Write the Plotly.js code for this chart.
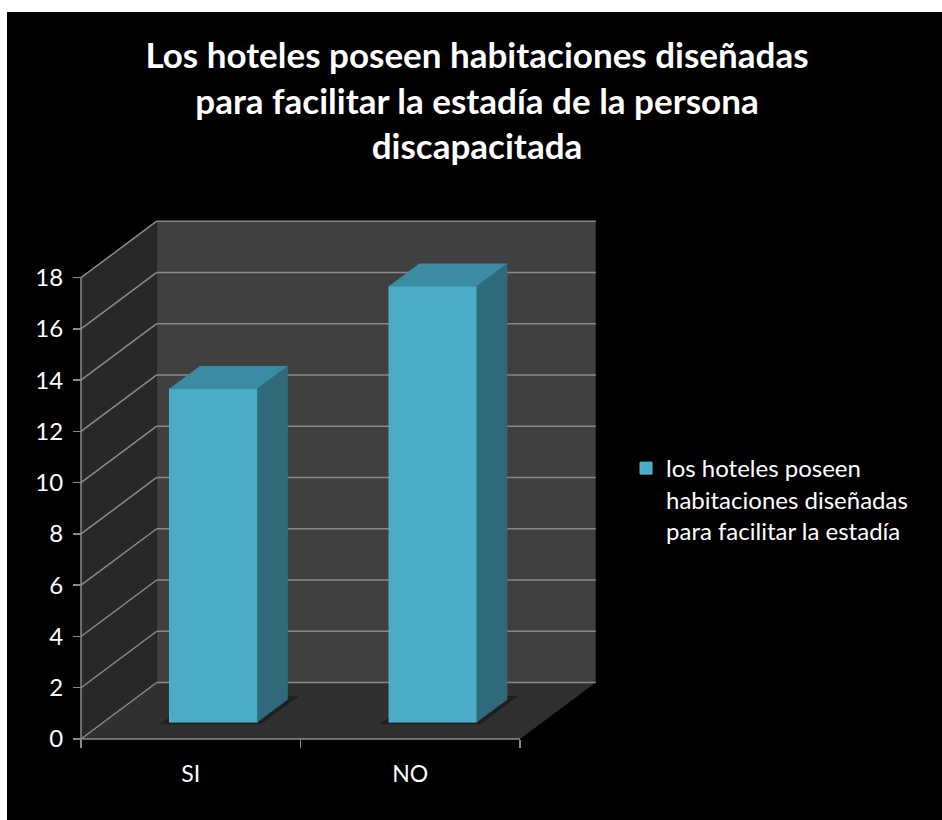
<!DOCTYPE html>
<html>
<head>
<meta charset="utf-8">
<script src="https://cdn.plot.ly/plotly-3.0.1.min.js"></script>
<style>html,body{margin:0;padding:0;background:#fff;}#chart{width:942px;height:820px;}</style>
</head>
<body>
<div id="chart"></div>
<script>
// ---- data ----
const categories = ['SI', 'NO'];
const values = [13, 17];
const yTicks = [0, 2, 4, 6, 8, 10, 12, 14, 16, 18];
const seriesName = 'los hoteles poseen<br>habitaciones diseñadas<br>para facilitar la estadía';
const chartTitle = 'Los hoteles poseen habitaciones diseñadas<br>para facilitar la estadía de la persona<br>discapacitada';

// ---- 3D projection (oblique) ----
const DX = 0.345, DY = 2.204;        // full depth offset in axis units
const BAR_D0 = 0.3, BAR_DD = 0.4, BAR_W = 0.4;
const wallTop = yTicks[yTicks.length - 1];
const x0 = -0.5, x1 = categories.length - 0.5;

// layout metrics
const W = 942, H = 820;
const M = {l: 48, r: 312, t: 200, b: 42, autoexpand: false};
const pw = W - M.l - M.r, ph = H - M.t - M.b;
const KX = 219.5, KY = 25.63;           // px per unit
const axisPxX = 81, axisPxY = 739;      // where front axes meet
const xr0 = x0 - (axisPxX - M.l) / KX, xr1 = xr0 + pw / KX;
const yr0 = -((H - M.b) - axisPxY) / KY, yr1 = yr0 + ph / KY;
const pxToPaperX = p => (p - M.l) / pw;
const pxToPaperY = p => ((H - M.b) - p) / ph;

const grid = '#8a8a8a';
const shapes = [];
// black background (leaves white strip top/left)
shapes.push({type: 'rect', xref: 'paper', yref: 'paper', layer: 'below',
  x0: pxToPaperX(7), x1: pxToPaperX(W + 5), y0: pxToPaperY(H + 5), y1: pxToPaperY(12),
  fillcolor: '#000000', line: {width: 0}});
// back wall
shapes.push({type: 'path', layer: 'below', xref: 'x', yref: 'y',
  path: `M${x0+DX},${DY} L${x1+DX},${DY} L${x1+DX},${wallTop+DY} L${x0+DX},${wallTop+DY} Z`,
  fillcolor: '#404040', line: {width: 0}});
// side wall
shapes.push({type: 'path', layer: 'below', xref: 'x', yref: 'y',
  path: `M${x0},0 L${x0},${wallTop} L${x0+DX},${wallTop+DY} L${x0+DX},${DY} Z`,
  fillcolor: '#282828', line: {width: 0}});
// floor
shapes.push({type: 'path', layer: 'below', xref: 'x', yref: 'y',
  path: `M${x0},0 L${x1},0 L${x1+DX},${DY} L${x0+DX},${DY} Z`,
  fillcolor: '#303030', line: {width: 0}});
// bar shadows on floor
values.forEach((v, i) => {
  const xl = i - BAR_W / 2, xr = xl + BAR_W;
  const da = BAR_D0 - 0.04, db = BAR_D0 + BAR_DD + 0.06;
  const ex = 0.03;
  shapes.push({type: 'path', layer: 'below', xref: 'x', yref: 'y',
    path: `M${xl-ex+da*DX},${da*DY} L${xr+ex+da*DX},${da*DY} L${xr+ex+db*DX},${db*DY} L${xl-ex+db*DX},${db*DY} Z`,
    fillcolor: 'rgba(0,0,0,0.35)', line: {width: 0}});
});
// gridlines: back wall + side wall diagonals
yTicks.forEach(v => {
  shapes.push({type: 'line', layer: 'below', xref: 'x', yref: 'y',
    x0: x0 + DX, x1: x1 + DX, y0: v + DY, y1: v + DY, line: {color: grid, width: 1.5}});
  shapes.push({type: 'line', layer: 'below', xref: 'x', yref: 'y',
    x0: x0, x1: x0 + DX, y0: v, y1: v + DY, line: {color: grid, width: 1.5}});
});
// front vertical axis line and floor front edge
shapes.push({type: 'line', layer: 'below', xref: 'x', yref: 'y',
  x0: x0, x1: x0, y0: 0, y1: wallTop, line: {color: grid, width: 1.5}});
shapes.push({type: 'line', layer: 'below', xref: 'x', yref: 'y',
  x0: x0, x1: x1, y0: 0, y1: 0, line: {color: grid, width: 1.5}});

// bar faces
const frontX = categories.map((c, i) => i + BAR_D0 * DX);
const base = BAR_D0 * DY;
const topX = [], topY = [], sideX = [], sideY = [];
values.forEach((v, i) => {
  const xl = frontX[i] - BAR_W / 2, xr = frontX[i] + BAR_W / 2;
  const yt = base + v;
  const dx = BAR_DD * DX, dy = BAR_DD * DY;
  topX.push(xl, xr, xr + dx, xl + dx, xl, null);
  topY.push(yt, yt, yt + dy, yt + dy, yt, null);
  sideX.push(xr, xr, xr + dx, xr + dx, xr, null);
  sideY.push(base, yt, yt + dy, base + dy, base, null);
});

const font = "Lato, 'Open Sans', sans-serif";
const traces = [
  {type: 'bar', x: frontX, y: values, base: base, width: BAR_W, name: seriesName,
   marker: {color: '#4aacc6', line: {color: '#55b8d2', width: 1}}, hoverinfo: 'skip'},
  {type: 'scatter', mode: 'lines', x: topX, y: topY, fill: 'toself', fillcolor: '#3b8ca3',
   line: {color: '#3b8ca3', width: 0.5}, showlegend: false, hoverinfo: 'skip'},
  {type: 'scatter', mode: 'lines', x: sideX, y: sideY, fill: 'toself', fillcolor: '#2f6a7b',
   line: {color: '#2f6a7b', width: 0.5}, showlegend: false, hoverinfo: 'skip'},
  {type: 'scatter', mode: 'markers', x: [0, 1], y: [null, null], xaxis: 'x2',
   showlegend: false, hoverinfo: 'skip'}
];

const layout = {
  width: W, height: H,
  margin: M,
  paper_bgcolor: '#ffffff', plot_bgcolor: 'rgba(0,0,0,0)',
  showlegend: true,
  hovermode: false,
  title: {text: chartTitle, font: {family: font, size: 35, weight: 700, color: '#ffffff'},
          xref: 'container', yref: 'container', x: 477 / W, xanchor: 'center',
          y: 1 - 68 / H, yanchor: 'top'},
  xaxis: {range: [xr0, xr1], anchor: 'free', position: pxToPaperY(axisPxY),
          tickmode: 'array', tickvals: [x0, 0.5, x1], ticks: 'outside', ticklen: 8,
          tickcolor: grid, tickwidth: 1.5, showticklabels: false,
          showgrid: false, zeroline: false, showline: false, fixedrange: true},
  xaxis2: {range: [xr0, xr1], overlaying: 'x', anchor: 'free', position: pxToPaperY(axisPxY),
          tickmode: 'array', tickvals: categories.map((c, i) => i), ticktext: categories,
          ticks: 'outside', ticklen: 14, tickcolor: 'rgba(0,0,0,0)',
          tickfont: {family: font, size: 23, color: '#ffffff'},
          showgrid: false, zeroline: false, showline: false, fixedrange: true},
  yaxis: {range: [yr0, yr1], anchor: 'free', position: pxToPaperX(axisPxX),
          tickmode: 'array', tickvals: yTicks, ticks: 'outside', ticklen: 8,
          tickcolor: grid, tickwidth: 1.5, ticklabelstandoff: 5,
          tickfont: {family: font, size: 24, color: '#ffffff'},
          showgrid: false, zeroline: false, showline: false, fixedrange: true},
  legend: {xref: 'container', yref: 'container', x: 626 / W, y: 1 - 446 / H,
           xanchor: 'left', yanchor: 'top', valign: 'top', bgcolor: 'rgba(0,0,0,0)',
           font: {family: font, size: 24, color: '#ffffff'}, itemwidth: 30},
  shapes: shapes
};

Plotly.newPlot('chart', traces, layout, {displayModeBar: false, staticPlot: true});
</script>
</body>
</html>
